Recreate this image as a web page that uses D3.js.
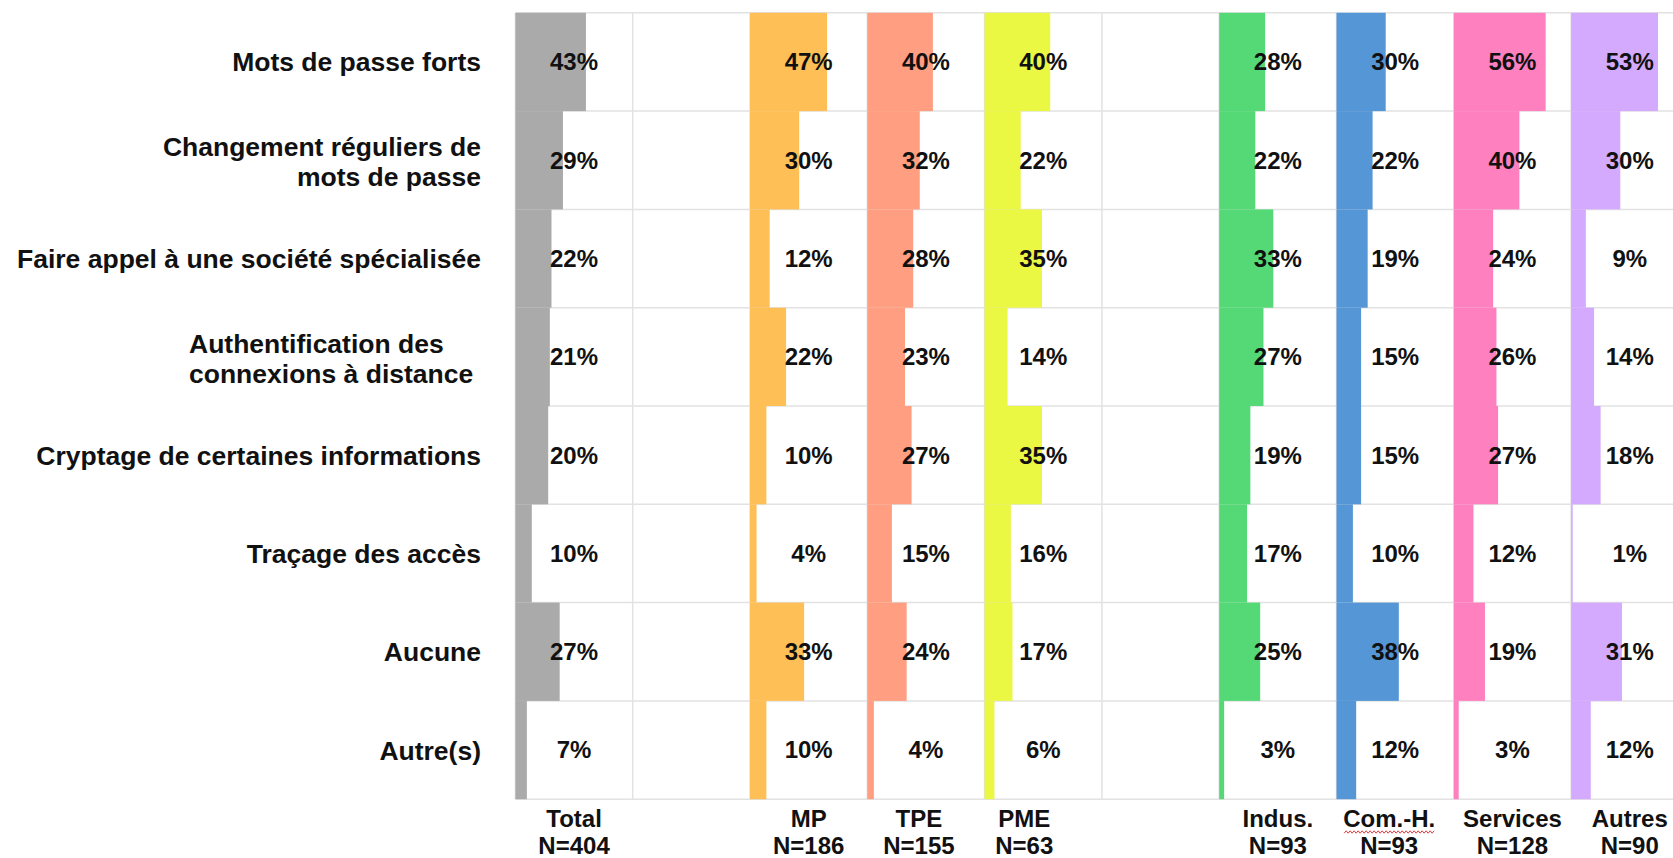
<!DOCTYPE html>
<html>
<head>
<meta charset="utf-8">
<script src="https://cdn.jsdelivr.net/npm/d3@7"></script>
<style>
  body { margin: 0; background: #fff; }
  text { font-family: "Liberation Sans", Arial, sans-serif; font-weight: bold; fill: #111; }
</style>
</head>
<body>
<div id="chart"></div>
<script>
var width = 1673;
var height = 858;

// row labels (one entry per line)
var rowLabels = [
    ["Mots de passe forts"],
    ["Changement réguliers de", "mots de passe"],
    ["Faire appel à une société spécialisée"],
    ["Authentification des", "connexions à distance"],
    ["Cryptage de certaines informations"],
    ["Traçage des accès"],
    ["Aucune"],
    ["Autre(s)"]
];

var groups = ["Total", "MP", "TPE", "PME", "Indus.", "Com.-H.", "Services", "Autres"];
var groupN = ["N=404", "N=186", "N=155", "N=63", "N=93", "N=93", "N=128", "N=90"];

// % per row, same order as rowLabels
var total    = [43, 29, 22, 21, 20, 10, 27, 7];
var mp       = [47, 30, 12, 22, 10, 4, 33, 10];
var tpe      = [40, 32, 28, 23, 27, 15, 24, 4];
var pme      = [40, 22, 35, 14, 35, 16, 17, 6];
var indus    = [28, 22, 33, 27, 19, 17, 25, 3];
var comH     = [30, 22, 19, 15, 15, 10, 38, 12];
var services = [56, 40, 24, 26, 27, 12, 19, 3];
var autres   = [53, 30, 9, 14, 18, 1, 31, 12];

var series = [total, mp, tpe, pme, indus, comH, services, autres];
var colors = ["#aaaaaa", "#ffbf57", "#ff9e80", "#eaf743", "#55d977", "#5596d6", "#ff80bf", "#d4aaff"];

// layout: two empty columns between the groups
var slots = ["Total", "gap1", "MP", "TPE", "PME", "gap2", "Indus.", "Com.-H.", "Services", "Autres"];
var gridLeft = 515.4, colW = 117.3;
var gridTop = 12.8, gridBottom = 799.2;

var svg = d3.select("#chart")
    .append("svg")
    .attr("width", width)
    .attr("height", height);

var col = d3.scaleBand()
    .domain(slots)
    .range([gridLeft, gridLeft + colW * slots.length]);

var y = d3.scaleBand()
    .domain(d3.range(rowLabels.length))
    .range([gridTop, gridBottom]);

var x = d3.scaleLinear()
    .domain([0, 100])
    .range([0, 164]);

// grid
var grid = svg.append("g").attr("stroke", "#e2e2e2").attr("stroke-width", 1.5);
grid.selectAll(".h")
    .data(d3.range(rowLabels.length + 1))
    .join("line")
    .attr("class", "h")
    .attr("x1", gridLeft).attr("x2", width)
    .attr("y1", function(d) { return gridTop + d * y.step(); })
    .attr("y2", function(d) { return gridTop + d * y.step(); });
grid.selectAll(".v")
    .data(d3.range(slots.length + 1))
    .join("line")
    .attr("class", "v")
    .attr("x1", function(d) { return gridLeft + d * col.step(); })
    .attr("x2", function(d) { return gridLeft + d * col.step(); })
    .attr("y1", gridTop).attr("y2", gridBottom);

// bars + value labels
var cells = [];
series.forEach(function(vals, gi) {
    vals.forEach(function(v, ri) {
        cells.push({group: groups[gi], color: colors[gi], row: ri, value: v});
    });
});

svg.append("g").selectAll("rect")
    .data(cells)
    .join("rect")
    .attr("x", function(d) { return col(d.group); })
    .attr("y", function(d) { return y(d.row); })
    .attr("width", function(d) { return x(d.value); })
    .attr("height", y.bandwidth())
    .attr("fill", function(d) { return d.color; });

svg.append("g").selectAll("text")
    .data(cells)
    .join("text")
    .attr("x", function(d) { return col(d.group) + col.bandwidth() / 2; })
    .attr("y", function(d) { return y(d.row) + y.bandwidth() / 2; })
    .attr("dy", "0.35em")
    .attr("text-anchor", "middle")
    .style("font-size", "24px")
    .text(function(d) { return d.value + "%"; });

// row labels
var rl = svg.append("g").selectAll("text")
    .data(rowLabels)
    .join("text")
    .style("font-size", "26.5px")
    .attr("text-anchor", function(d, i) { return i === 3 ? "start" : "end"; })
    .attr("y", function(d, i) { return y(i) + y.bandwidth() / 2; });

rl.each(function(lines, i) {
    var t = d3.select(this);
    var xPos = i === 3 ? 189 : 481;
    lines.forEach(function(line, li) {
        var dy = lines.length === 1 ? 9.5 : -4;
        t.append("tspan")
            .attr("x", xPos)
            .attr("dy", li === 0 ? dy : 30)
            .text(line);
    });
});

// column labels (a few sit a bit left of their column centre in the original)
var nudge = {"TPE": -7, "PME": -19, "Com.-H.": -6};
var cl = svg.append("g").selectAll("g")
    .data(groups)
    .join("g")
    .attr("transform", function(d) {
        return "translate(" + (col(d) + col.bandwidth() / 2 + (nudge[d] || 0)) + ",0)";
    });

cl.append("text")
    .attr("class", "gname")
    .attr("y", 827)
    .attr("text-anchor", "middle")
    .style("font-size", "24px")
    .text(function(d) { return d; });

cl.append("text")
    .attr("y", 854)
    .attr("text-anchor", "middle")
    .style("font-size", "24px")
    .text(function(d, i) { return groupN[i]; });

// red spell-check squiggle under "Com.-H."
cl.filter(function(d) { return d === "Com.-H."; }).each(function() {
    var g = d3.select(this);
    var bb = g.select(".gname").node().getBBox();
    var pts = [];
    for (var px = bb.x + 1, k = 0; px <= bb.x + bb.width - 1; px += 2, k++) {
        pts.push([px, 832 + (k % 2 ? -1.2 : 1.2)]);
    }
    g.append("path")
        .attr("d", d3.line()(pts))
        .attr("fill", "none")
        .attr("stroke", "#e0393e")
        .attr("stroke-width", 1);
});
</script>
</body>
</html>
